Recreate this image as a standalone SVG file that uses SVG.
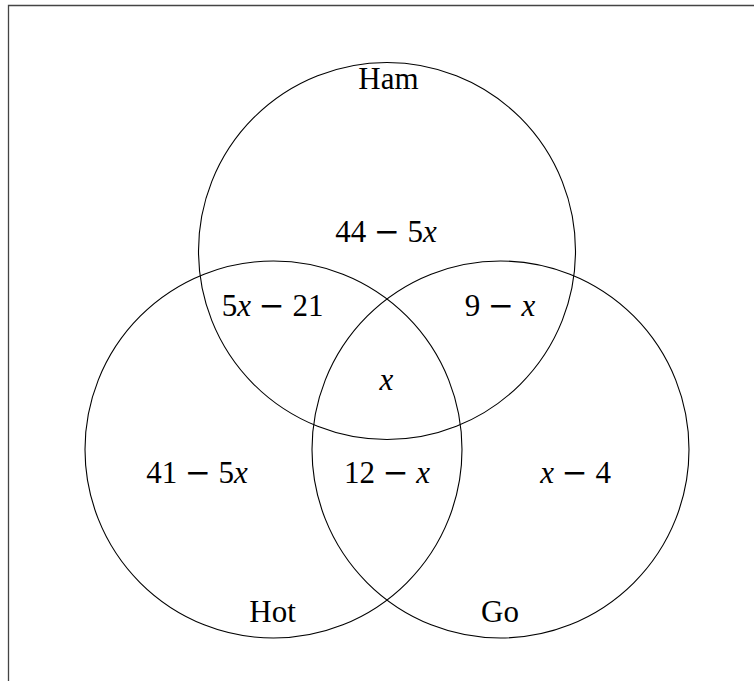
<svg xmlns="http://www.w3.org/2000/svg" width="754" height="681" viewBox="0 0 754 681">
<style>
.c{fill:none;stroke:#000;stroke-width:1.1}
.t{font-family:"Liberation Serif","DejaVu Serif",serif;font-size:31px;fill:#000;text-anchor:middle}
.i{font-style:italic}
.m{font-family:"DejaVu Serif",serif}
.f{fill:none;stroke:#444;stroke-width:1.3}
</style>
<rect width="754" height="681" fill="#fff"/>
<path class="f" d="M8.5 681V5.5H754"/>
<g id="ham">
<circle class="c" cx="387" cy="251" r="188.5"/>
<text class="t" x="388.5" y="89">Ham</text>
</g>
<g id="hot">
<circle class="c" cx="273.5" cy="449.5" r="188.5"/>
<text class="t" x="272.5" y="622">Hot</text>
</g>
<g id="go">
<circle class="c" cx="500.5" cy="449.5" r="188.5"/>
<text class="t" x="500" y="622">Go</text>
</g>
<g id="regions">
<text class="t" x="386" y="242">44 <tspan class="m">−</tspan> 5<tspan class="i">x</tspan></text>
<text class="t" x="272.5" y="316">5<tspan class="i">x</tspan> <tspan class="m">−</tspan> 21</text>
<text class="t" x="500" y="316">9 <tspan class="m">−</tspan> <tspan class="i">x</tspan></text>
<text class="t i" x="386.5" y="390">x</text>
<text class="t" x="197" y="483">41 <tspan class="m">−</tspan> 5<tspan class="i">x</tspan></text>
<text class="t" x="387" y="483">12 <tspan class="m">−</tspan> <tspan class="i">x</tspan></text>
<text class="t" x="575.5" y="483"><tspan class="i">x</tspan> <tspan class="m">−</tspan> 4</text>
</g>
</svg>
